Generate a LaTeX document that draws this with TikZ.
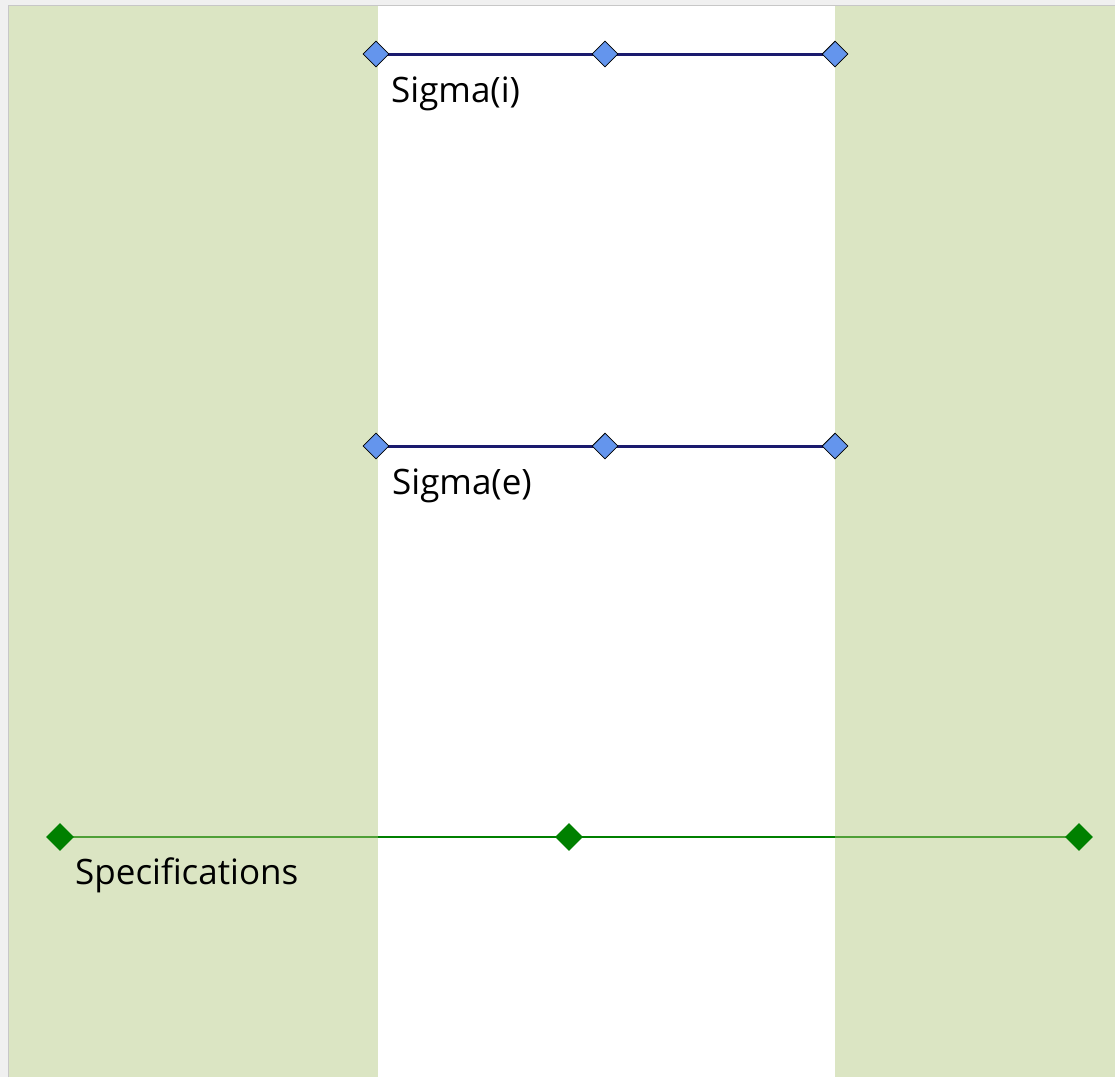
\documentclass[tikz,border=0pt]{standalone}
\usepackage{fontspec}
\setmainfont{Open Sans}
\usetikzlibrary{shapes.geometric}

\definecolor{bandgreen}{RGB}{177,199,124}
\definecolor{sigmablue}{RGB}{100,149,237}
\definecolor{sigmaline}{RGB}{26,26,110}
\definecolor{specgreen}{RGB}{0,128,0}
\definecolor{framegray}{RGB}{240,240,240}

\tikzset{
	band/.style={fill=bandgreen, fill opacity=0.45, draw=none},
	sigmapoint/.style={diamond, fill=sigmablue, draw=black, line width=0.8pt, inner sep=0pt, minimum size=26pt},
	specpoint/.style={diamond, fill=specgreen, draw=none, inner sep=0pt, minimum size=28pt},
	sigmalink/.style={draw=sigmaline, line width=3pt},
	speclink/.style={draw=specgreen, line width=2pt},
	caption/.style={anchor=base west, font=\fontsize{35}{40}\selectfont, inner sep=0pt}
}

\begin{document}
\begin{tikzpicture}[x=1pt, y=-1pt]
	\useasboundingbox (0,0) rectangle (1115,1077);
	\fill[framegray] (0,0) rectangle (1115,1077);
	\fill[white] (8.5,5.5) rectangle (1115,1077);
	\draw[black!22, line width=1.2pt] (8.5,1077) -- (8.5,5.5) -- (1115,5.5);
	
	% points
	\coordinate (si1) at (376,54);
	\coordinate (si2) at (605,54);
	\coordinate (si3) at (835,54);
	\coordinate (se1) at (376,446);
	\coordinate (se2) at (605,446);
	\coordinate (se3) at (835,446);
	\coordinate (sp1) at (60,837);
	\coordinate (sp2) at (569,837);
	\coordinate (sp3) at (1079,837);
	
	\draw[sigmalink] (si1) -- (si2) -- (si3);
	\draw[sigmalink] (se1) -- (se2) -- (se3);
	\draw[speclink] (sp1) -- (sp2) -- (sp3);
	
	% limit bands
	\path[band] (9,6) rectangle (378,1077);
	\path[band] (835,6) rectangle (1115,1077);
	
	\node[sigmapoint] (SigmaILow) at (si1) {};
	\node[sigmapoint] (SigmaIMid) at (si2) {};
	\node[sigmapoint] (SigmaIHigh) at (si3) {};
	\node[sigmapoint] (SigmaELow) at (se1) {};
	\node[sigmapoint] (SigmaEMid) at (se2) {};
	\node[sigmapoint] (SigmaEHigh) at (se3) {};
	\node[specpoint] (SpecLow) at (sp1) {};
	\node[specpoint] (SpecMid) at (sp2) {};
	\node[specpoint] (SpecHigh) at (sp3) {};
	
	\node[caption] (SigmaILabel) at (391,102) {Sigma(i)};
	\node[caption] (SigmaELabel) at (392,494) {Sigma(e)};
	\node[caption] (SpecLabel) at (75,884) {Specifications};
\end{tikzpicture}
\end{document}
